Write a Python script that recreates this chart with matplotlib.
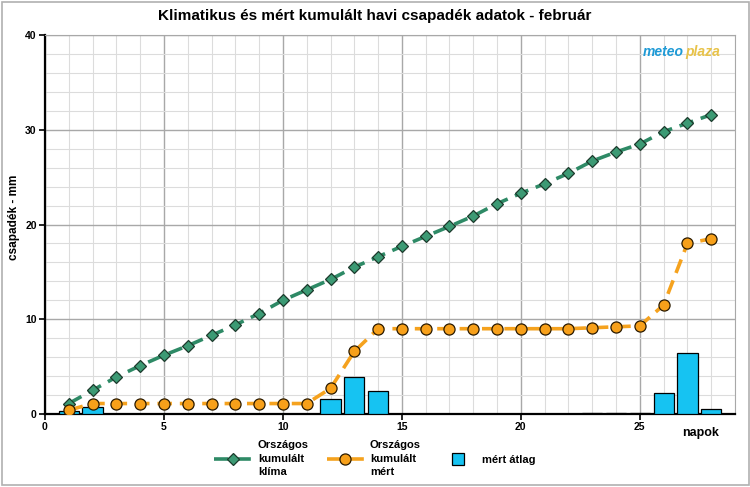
import matplotlib
matplotlib.use("Agg")
import matplotlib.pyplot as plt
from matplotlib.patches import Rectangle
from matplotlib.lines import Line2D
from matplotlib.ticker import MultipleLocator

plt.rcParams["font.family"] = ["Liberation Sans", "DejaVu Sans"]

days = list(range(1, 29))
klima = [1.1, 2.5, 3.9, 5.1, 6.2, 7.2, 8.3, 9.4, 10.6, 12.0,
         13.1, 14.2, 15.5, 16.6, 17.7, 18.75, 19.8, 20.9, 22.2, 23.3,
         24.3, 25.4, 26.7, 27.65, 28.5, 29.8, 30.7, 31.6]
mert = [0.4, 1.1, 1.1, 1.1, 1.1, 1.1, 1.1, 1.1, 1.1, 1.1,
        1.1, 2.7, 6.6, 9.0, 9.0, 9.0, 9.0, 9.0, 9.0, 9.0,
        9.0, 9.0, 9.1, 9.2, 9.3, 11.5, 18.0, 18.5]
atlag = [0.35, 0.7, 0, 0, 0, 0, 0, 0, 0, 0,
         0, 1.6, 3.9, 2.45, 0, 0, 0, 0, 0, 0,
         0, 0, 0.08, 0.08, 0.08, 2.2, 6.4, 0.5]

C_GREEN = "#2E8A66"
C_ORANGE = "#F5A21E"
C_BLUE = "#16C3F2"

fig = plt.figure(figsize=(7.5, 4.87), dpi=100)
ax = fig.add_axes([0.06, 0.15, 0.92, 0.778])

ax.bar(days, atlag, width=0.85, color=C_BLUE, edgecolor="black", lw=0.9, zorder=3)
l_klima, = ax.plot(days, klima, ls=(0, (4, 2.2)), lw=2.6, color=C_GREEN, marker="D",
                   ms=6.5, mfc="#3C9A74", mec="#1c3a2c", mew=0.9, zorder=4)
l_mert, = ax.plot(days, mert, ls=(0, (4, 2.2)), lw=2.6, color=C_ORANGE, marker="o",
                  ms=8, mfc="#F7A01A", mec="#2a1a00", mew=0.9, zorder=5)

ax.set_xlim(0, 29)
ax.set_ylim(0, 40)
ax.xaxis.set_major_locator(MultipleLocator(5))
ax.xaxis.set_minor_locator(MultipleLocator(1))
ax.yaxis.set_major_locator(MultipleLocator(10))
ax.yaxis.set_minor_locator(MultipleLocator(2))
ax.grid(which="minor", color="#DCDCDC", lw=0.8, zorder=0)
ax.grid(which="major", color="#A8A8A8", lw=1.0, zorder=1)
ax.set_axisbelow(True)

for s in ("top", "right"):
    ax.spines[s].set_color("#A8A8A8")
for s in ("left", "bottom"):
    ax.spines[s].set_color("black")
    ax.spines[s].set_linewidth(1.6)
ax.tick_params(which="major", direction="out", length=4, width=1.2,
               labelsize=7.5, pad=2)
ax.tick_params(which="minor", length=0)
for lab in ax.get_xticklabels() + ax.get_yticklabels():
    lab.set_fontweight("bold")

ax.set_ylabel("csapadék - mm", fontsize=8.5, fontweight="bold")
ax.yaxis.set_label_coords(-0.036, 0.52)
ax.text(0.977, -0.035, "napok", transform=ax.transAxes, ha="right", va="top",
        fontsize=9, fontweight="bold")

fig.text(0.5, 0.968, "Klimatikus és mért kumulált havi csapadék adatok - február",
         ha="center", va="center", fontsize=11, fontweight="bold")

# watermark
ax.text(0.867, 0.955, "meteo", transform=ax.transAxes, ha="left", va="center",
        fontsize=10, fontweight="bold", style="italic", color="#1E9AD6")
ax.text(0.928, 0.955, "plaza", transform=ax.transAxes, ha="left", va="center",
        fontsize=10, fontweight="bold", style="italic", color="#E8C34A")

bar_handle = Line2D([], [], ls="none", marker="s", ms=8, mfc=C_BLUE, mec="black", mew=0.9)
leg = fig.legend([l_klima, l_mert, bar_handle],
                 ["Országos\nkumulált\nklíma", "Országos\nkumulált\nmért", "mért átlag"],
                 ncol=3, loc="center", bbox_to_anchor=(0.5, 0.058), frameon=False,
                 prop={"size": 8, "weight": "bold"}, handlelength=3.4,
                 columnspacing=1.6, handletextpad=0.5)
for t in leg.get_texts():
    t.set_linespacing(1.45)

fig.add_artist(Rectangle((0.002, 0.004), 0.996, 0.992, transform=fig.transFigure,
                         fill=False, ec="#B0B0B0", lw=1.2))

fig.savefig("out.png", dpi=100, facecolor="white")
